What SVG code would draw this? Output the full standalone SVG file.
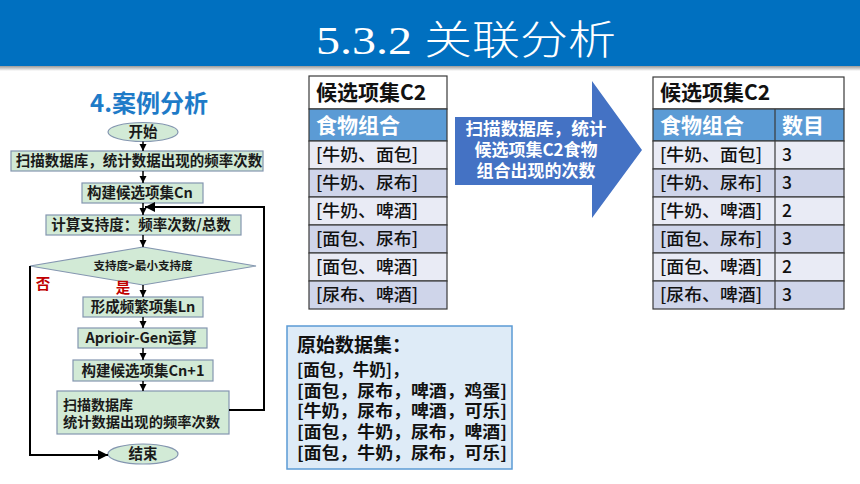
<svg xmlns="http://www.w3.org/2000/svg" width="860" height="484" viewBox="0 0 860 484">
<defs>
<style>
.cjk{font-family:"Noto Sans CJK SC","Noto Sans",sans-serif;}
.fbox{fill:#D2EAD6;stroke:#8496B0;stroke-width:1.2;}
.ftxt{font-family:"Noto Sans CJK SC",sans-serif;font-size:14.5px;font-weight:bold;fill:#1a1a1a;}
.dmtxt{font-family:"Noto Sans CJK SC",sans-serif;font-size:11.5px;font-weight:bold;fill:#1a1a1a;}
.conn{fill:none;stroke:#000;stroke-width:1.5;}
.loop{fill:none;stroke:#000;stroke-width:2;}
.tbl{stroke:#3a3a3a;stroke-width:1.2;}
.rowA{fill:#E9EBF5;}
.rowB{fill:#CFD5EA;}
.ttxt{font-family:"Noto Sans CJK SC",sans-serif;font-size:17.5px;font-weight:500;fill:#111;}
.thead{font-family:"Noto Sans CJK SC",sans-serif;font-size:21px;font-weight:bold;fill:#fff;}
.ttitle{font-family:"Noto Sans CJK SC",sans-serif;font-size:21px;font-weight:bold;fill:#111;}
.dtxt{font-family:"Noto Sans CJK SC",sans-serif;font-size:16.5px;font-weight:bold;fill:#111;}
.atxt{font-family:"Noto Sans CJK SC",sans-serif;font-size:17px;font-weight:bold;fill:#fff;}
.lbl{font-family:"Noto Sans CJK SC",sans-serif;font-size:14.5px;font-weight:bold;fill:#C00000;}
</style>
<marker id="ah" viewBox="0 0 10 10" refX="10" refY="5" markerWidth="5" markerHeight="5" orient="auto" markerUnits="strokeWidth">
<path d="M0,0 L10,5 L0,10 z" fill="#000"/>
</marker>
<linearGradient id="shadow" x1="0" y1="0" x2="0" y2="1">
<stop offset="0" stop-color="#9a9a9a"/>
<stop offset="1" stop-color="#ffffff"/>
</linearGradient>
</defs>
<rect width="860" height="484" fill="#fff"/>
<g id="titlebar">
<rect x="0" y="66" width="860" height="5" fill="url(#shadow)"/>
<rect x="0" y="0" width="860" height="66" fill="#0070C0"/>
<text x="316" y="54" font-size="40" fill="#fff" textLength="300" lengthAdjust="spacingAndGlyphs"><tspan font-family="'Liberation Serif',serif">5.3.2 </tspan><tspan font-family="'Noto Sans CJK SC',sans-serif" font-weight="300">关联分析</tspan></text>
</g>
<g id="flow-title"><text x="149" y="112" text-anchor="middle" class="cjk" font-size="24" font-weight="bold" fill="#1E7BC8">4.案例分析</text></g>
<g id="start"><ellipse cx="143" cy="132" rx="35" ry="9.5" class="fbox"/><text x="143" y="137" text-anchor="middle" class="ftxt">开始</text></g>
<g id="scan1"><rect x="11" y="151" width="252" height="20" class="fbox"/><text x="139" y="166" text-anchor="middle" class="ftxt">扫描数据库，统计数据出现的频率次数</text></g>
<g id="buildCn"><rect x="82" y="183" width="121" height="20" class="fbox"/><text x="140" y="198" text-anchor="middle" class="ftxt">构建候选项集Cn</text></g>
<g id="support"><rect x="46" y="215" width="195" height="20" class="fbox"/><text x="141" y="230" text-anchor="middle" class="ftxt">计算支持度：频率次数/总数</text></g>
<g id="decision"><polygon points="143,247 256,266 143,285 30,266" class="fbox"/><text x="143" y="270" text-anchor="middle" class="dmtxt">支持度&gt;最小支持度</text></g>
<g id="ln"><rect x="83" y="297" width="120" height="20" class="fbox"/><text x="143" y="312" text-anchor="middle" class="ftxt">形成频繁项集Ln</text></g>
<g id="gen"><rect x="78" y="328" width="129" height="20" class="fbox"/><text x="141" y="343" text-anchor="middle" class="ftxt">Aprioir-Gen运算</text></g>
<g id="buildCn1"><rect x="73" y="360" width="140" height="21" class="fbox"/><text x="143" y="375.5" text-anchor="middle" class="ftxt">构建候选项集Cn+1</text></g>
<g id="scan2"><rect x="57" y="391" width="172" height="43" class="fbox"/><text x="63" y="410" class="ftxt" style="font-size:14px">扫描数据库</text><text x="63" y="427" class="ftxt" style="font-size:14px" textLength="157" lengthAdjust="spacingAndGlyphs">统计数据出现的频率次数</text></g>
<g id="end"><ellipse cx="143" cy="454" rx="35" ry="10" class="fbox"/><text x="143" y="459" text-anchor="middle" class="ftxt">结束</text></g>
<g id="labels">
<text x="43" y="289" text-anchor="middle" class="lbl">否</text>
<text x="123" y="293" text-anchor="middle" class="lbl">是</text>
</g>
<g id="connectors">
<line x1="143" y1="141.5" x2="143" y2="151" class="conn" marker-end="url(#ah)"/>
<line x1="143" y1="171" x2="143" y2="183" class="conn" marker-end="url(#ah)"/>
<line x1="143" y1="203" x2="143" y2="215" class="conn" marker-end="url(#ah)"/>
<line x1="143" y1="235" x2="143" y2="247" class="conn" marker-end="url(#ah)"/>
<line x1="143" y1="285" x2="143" y2="297" class="conn" marker-end="url(#ah)"/>
<line x1="143" y1="317" x2="143" y2="328" class="conn" marker-end="url(#ah)"/>
<line x1="143" y1="348" x2="143" y2="360" class="conn" marker-end="url(#ah)"/>
<line x1="143" y1="381" x2="143" y2="391" class="conn" marker-end="url(#ah)"/>
<polyline points="229,410 264,410 264,207 145,207" class="loop" marker-end="url(#ah)"/>
<polyline points="30,266 30,455 108,455" class="loop" marker-end="url(#ah)"/>
</g>
<g id="tableC2">
<rect x="309" y="76" width="138" height="33" fill="#fff" class="tbl"/>
<rect x="309" y="109" width="138" height="32" fill="#5B9BD5" class="tbl"/>
<rect x="309" y="141" width="138" height="28" class="rowA tbl"/>
<rect x="309" y="169" width="138" height="28" class="rowB tbl"/>
<rect x="309" y="197" width="138" height="28" class="rowA tbl"/>
<rect x="309" y="225" width="138" height="28" class="rowB tbl"/>
<rect x="309" y="253" width="138" height="28" class="rowA tbl"/>
<rect x="309" y="281" width="138" height="28" class="rowB tbl"/>
<text x="316" y="100" class="ttitle">候选项集C2</text>
<text x="316" y="133" class="thead">食物组合</text>
<text x="316" y="161" class="ttxt" textLength="102" lengthAdjust="spacingAndGlyphs">[牛奶、面包]</text>
<text x="316" y="189" class="ttxt" textLength="102" lengthAdjust="spacingAndGlyphs">[牛奶、尿布]</text>
<text x="316" y="217" class="ttxt" textLength="102" lengthAdjust="spacingAndGlyphs">[牛奶、啤酒]</text>
<text x="316" y="245" class="ttxt" textLength="102" lengthAdjust="spacingAndGlyphs">[面包、尿布]</text>
<text x="316" y="273" class="ttxt" textLength="102" lengthAdjust="spacingAndGlyphs">[面包、啤酒]</text>
<text x="316" y="301" class="ttxt" textLength="102" lengthAdjust="spacingAndGlyphs">[尿布、啤酒]</text>
</g>
<g id="bigArrow">
<polygon points="455,117 592,117 592,81 642,150 592,218 592,185 455,185" fill="#4472C4"/>
<text x="536" y="135" text-anchor="middle" class="atxt" textLength="141" lengthAdjust="spacingAndGlyphs">扫描数据库，统计</text>
<text x="536" y="156" text-anchor="middle" class="atxt">候选项集C2食物</text>
<text x="536" y="177" text-anchor="middle" class="atxt">组合出现的次数</text>
</g>
<g id="tableC2count">
<rect x="653" y="77" width="191" height="32" fill="#fff" class="tbl"/>
<rect x="653" y="109" width="191" height="32" fill="#5B9BD5" class="tbl"/>
<rect x="653" y="141" width="191" height="28" class="rowA tbl"/>
<rect x="653" y="169" width="191" height="28" class="rowB tbl"/>
<rect x="653" y="197" width="191" height="28" class="rowA tbl"/>
<rect x="653" y="225" width="191" height="28" class="rowB tbl"/>
<rect x="653" y="253" width="191" height="28" class="rowA tbl"/>
<rect x="653" y="281" width="191" height="28" class="rowB tbl"/>
<line x1="775" y1="109" x2="775" y2="309" class="tbl"/>
<text x="660" y="100" class="ttitle">候选项集C2</text>
<text x="660" y="133" class="thead">食物组合</text>
<text x="782" y="133" class="thead">数目</text>
<text x="660" y="161" class="ttxt" textLength="102" lengthAdjust="spacingAndGlyphs">[牛奶、面包]</text>
<text x="660" y="189" class="ttxt" textLength="102" lengthAdjust="spacingAndGlyphs">[牛奶、尿布]</text>
<text x="660" y="217" class="ttxt" textLength="102" lengthAdjust="spacingAndGlyphs">[牛奶、啤酒]</text>
<text x="660" y="245" class="ttxt" textLength="102" lengthAdjust="spacingAndGlyphs">[面包、尿布]</text>
<text x="660" y="273" class="ttxt" textLength="102" lengthAdjust="spacingAndGlyphs">[面包、啤酒]</text>
<text x="660" y="301" class="ttxt" textLength="102" lengthAdjust="spacingAndGlyphs">[尿布、啤酒]</text>
<text x="782" y="161" class="ttxt">3</text>
<text x="782" y="189" class="ttxt">3</text>
<text x="782" y="217" class="ttxt">2</text>
<text x="782" y="245" class="ttxt">3</text>
<text x="782" y="273" class="ttxt">2</text>
<text x="782" y="301" class="ttxt">3</text>
</g>
<g id="dataset">
<rect x="287" y="326" width="225" height="143" fill="#DEEBF7" stroke="#5B9BD5" stroke-width="1.5"/>
<text x="297" y="352" class="cjk" font-size="19" font-weight="bold" fill="#111">原始数据集：</text>
<text x="297" y="376" class="dtxt">[面包，牛奶]，</text>
<text x="297" y="397" class="dtxt" textLength="210" lengthAdjust="spacingAndGlyphs">[面包，尿布，啤酒，鸡蛋]</text>
<text x="297" y="417" class="dtxt" textLength="210" lengthAdjust="spacingAndGlyphs">[牛奶，尿布，啤酒，可乐]</text>
<text x="297" y="438" class="dtxt" textLength="210" lengthAdjust="spacingAndGlyphs">[面包，牛奶，尿布，啤酒]</text>
<text x="297" y="459" class="dtxt" textLength="210" lengthAdjust="spacingAndGlyphs">[面包，牛奶，尿布，可乐]</text>
</g>
</svg>
